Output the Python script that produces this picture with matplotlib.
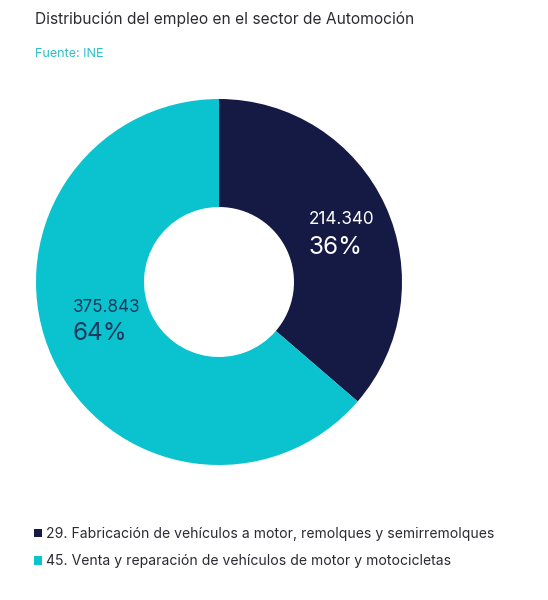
import matplotlib
matplotlib.use('Agg')
from matplotlib import pyplot as plt

plt.rcParams['font.family'] = ['Inter', 'DejaVu Sans']

sectors = ['29. Fabricación de vehículos a motor, remolques y semirremolques',
           '45. Venta y reparación de vehículos de motor y motocicletas']
empleo = [214340, 375843]
valor_txt = ['214.340', '375.843']
colors = ['#141A44', '#0BC3CF']
label_colors = ['#FFFFFF', '#1B3A5C']

W, H = 548, 600
fig = plt.figure(figsize=(W / 100, H / 100), dpi=100)
fig.patch.set_facecolor('white')


def px(x, y):
    return x / W, 1 - y / H


# donut centre (219, 282), outer radius 183 px
cx, cy, r = 219, 282, 183
ax = fig.add_axes([(cx - r) / W, 1 - (cy + r) / H, 2 * r / W, 2 * r / H])
wedges, _ = ax.pie(empleo, colors=colors, startangle=90, counterclock=False,
                   radius=1, wedgeprops=dict(width=1 - 75 / 183, linewidth=0))
ax.set_xlim(-1, 1)
ax.set_ylim(-1, 1)
ax.set_aspect('equal')
ax.axis('off')

total = sum(empleo)
pct = [round(100 * v / total) for v in empleo]

# value labels
pos = [(309, 220), (73, 307)]
for i in range(len(empleo)):
    x, y = px(*pos[i])
    fig.text(x, y, valor_txt[i], fontsize=12.3, color=label_colors[i],
             ha='left', va='center')
    x2, y2 = px(pos[i][0], pos[i][1] + 27)
    fig.text(x2, y2, str(pct[i]) + '%', fontsize=17.5, color=label_colors[i],
             ha='left', va='center')

# title and source
tx, ty = px(35, 19)
fig.text(tx, ty, 'Distribución del empleo en el sector de Automoción',
         fontsize=11.2, color='#2B2B33', ha='left', va='center')
sx, sy = px(35, 54)
fig.text(sx, sy, 'Fuente: INE', fontsize=9, color='#2BBFC8',
         ha='left', va='center')

# legend
lx, ly = px(34, 527)
fig.legend(wedges, sectors, loc='upper left', bbox_to_anchor=(lx, ly),
           frameon=False, fontsize=10.1, handlelength=0.55, handleheight=0.55,
           handletextpad=0.3, labelspacing=0.95, labelcolor='#2B2B33',
           borderaxespad=0, borderpad=0)

plt.savefig('out.png', dpi=100, facecolor='white')
